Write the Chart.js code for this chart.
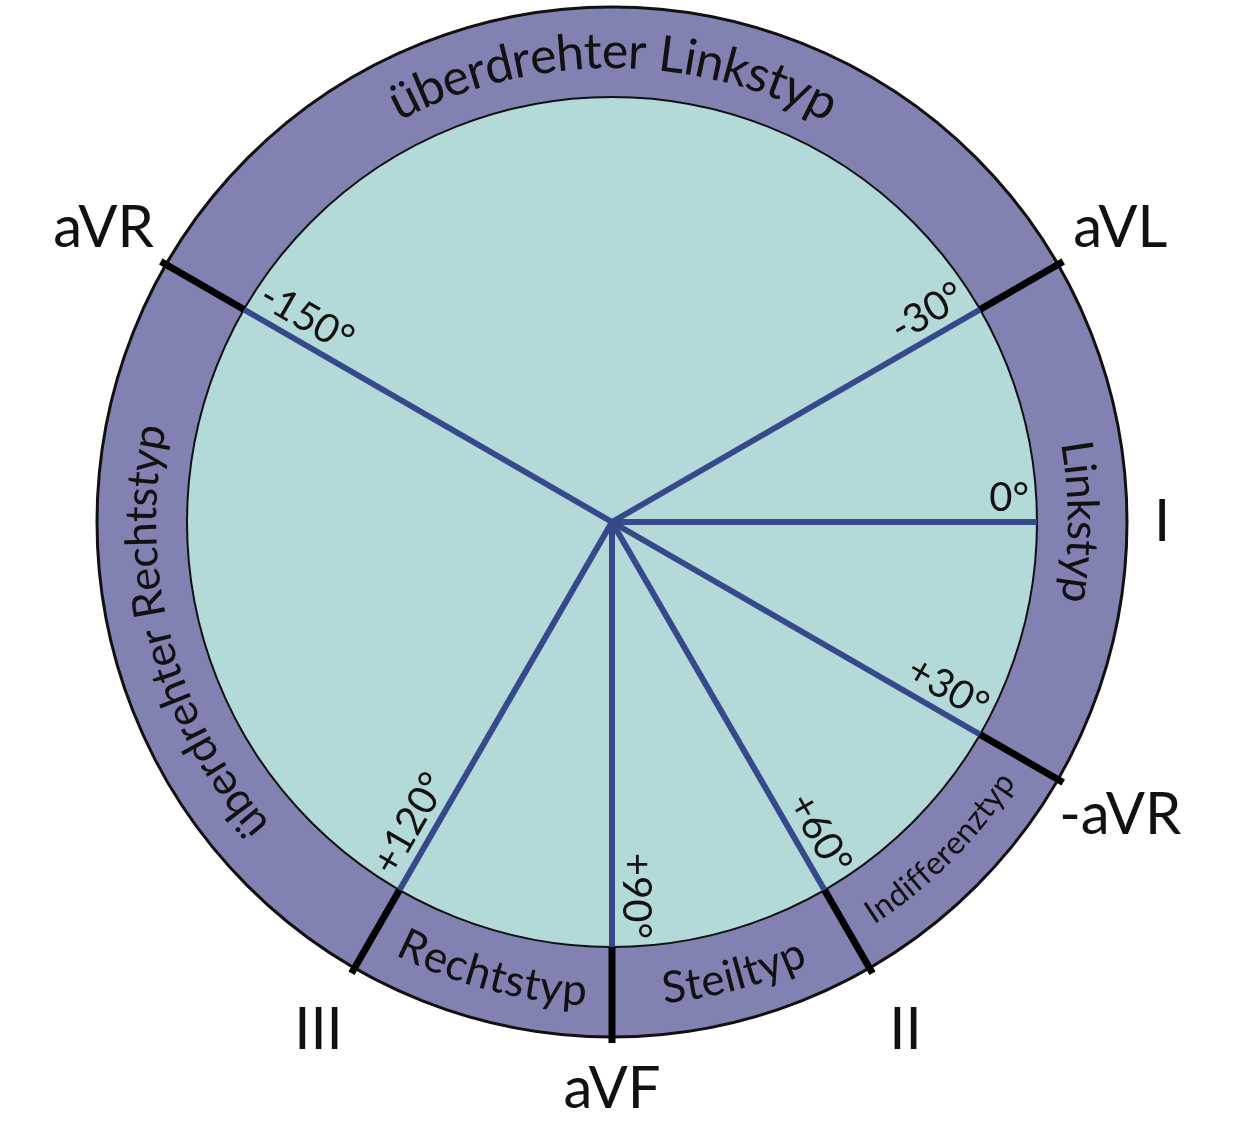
<!DOCTYPE html>
<html><head><meta charset="utf-8">
<script src="https://cdn.jsdelivr.net/npm/chart.js@4/dist/chart.umd.min.js"></script>
<style>html,body{margin:0;background:#fff}</style>
</head><body>
<canvas id="c" width="1242" height="1148"></canvas>
<script>
// sectors of the ring, starting at -150° going clockwise
const sectorNames = ['überdrehter Linkstyp','Linkstyp','Indifferenztyp','Steiltyp','Rechtstyp','überdrehter Rechtstyp'];
const sectorSpans = [120, 60, 30, 30, 30, 90];
const sectorTextSide = ['out','out','in','in','in','out'];
const startAngle = -150;
// axis lines (degrees)
const axisAngles = [-150, -30, 0, 30, 60, 90, 120];
const axisLabels = ['-150°','-30°','0°','+30°','+60°','+90°','+120°'];
// leads
const leadAngles = [-150, -30, 0, 30, 60, 90, 120];
const leadNames = ['aVR','aVL','I','-aVR','II','aVF','III'];
const separators = [-150, -30, 30, 60, 90, 120];

const FONT = 'Lato, "Open Sans", sans-serif';
const rad = d => d * Math.PI / 180;

function arcText(ctx, cx, cy, text, mid, r, side) {
  const total = ctx.measureText(text).width / r;
  let a = side === 'out' ? mid - total / 2 : mid + total / 2;
  for (const ch of text) {
    const w = ctx.measureText(ch).width / r;
    const ca = side === 'out' ? a + w / 2 : a - w / 2;
    ctx.save();
    ctx.translate(cx + r * Math.cos(ca), cy + r * Math.sin(ca));
    ctx.rotate(side === 'out' ? ca + Math.PI / 2 : ca - Math.PI / 2);
    ctx.fillText(ch, 0, 0);
    ctx.restore();
    a = side === 'out' ? a + w : a - w;
  }
}

const cabrera = {
  id: 'cabrera',
  afterDraw(chart) {
    const ctx = chart.ctx;
    const ring = chart.getDatasetMeta(0).data[0];
    const inner = chart.getDatasetMeta(1).data[0];
    const cx = ring.x, cy = ring.y, R = ring.outerRadius, r = inner.outerRadius;
    ctx.save();
    // circles
    ctx.strokeStyle = '#111';
    ctx.lineWidth = 3;
    ctx.beginPath(); ctx.arc(cx, cy, R, 0, 2 * Math.PI); ctx.stroke();
    ctx.lineWidth = 2;
    ctx.beginPath(); ctx.arc(cx, cy, r, 0, 2 * Math.PI); ctx.stroke();
    // blue axis lines
    ctx.strokeStyle = '#36498a';
    ctx.lineWidth = 6;
    ctx.lineCap = 'butt';
    axisAngles.forEach(d => {
      ctx.beginPath();
      ctx.moveTo(cx, cy);
      ctx.lineTo(cx + r * Math.cos(rad(d)), cy + r * Math.sin(rad(d)));
      ctx.stroke();
    });
    // black separators
    ctx.strokeStyle = '#000';
    ctx.lineWidth = 7;
    separators.forEach(d => {
      ctx.beginPath();
      ctx.moveTo(cx + r * Math.cos(rad(d)), cy + r * Math.sin(rad(d)));
      ctx.lineTo(cx + (R + 6) * Math.cos(rad(d)), cy + (R + 6) * Math.sin(rad(d)));
      ctx.stroke();
    });
    // sector names along the ring
    ctx.fillStyle = '#111';
    ctx.textAlign = 'center';
    ctx.textBaseline = 'middle';
    let a = startAngle;
    sectorNames.forEach((n, i) => {
      const mid = a + sectorSpans[i] / 2;
      ctx.font = (n === 'Indifferenztyp' ? '32px ' : (i === 0 ? '50px ' : '44px ')) + FONT;
      arcText(ctx, cx, cy, n, rad(mid), (R + r) / 2, sectorTextSide[i]);
      a += sectorSpans[i];
    });
    // axis degree labels
    ctx.font = '40px ' + FONT;
    ctx.textBaseline = 'bottom';
    axisAngles.forEach((d, i) => {
      const px = cx + (r - 8) * Math.cos(rad(d)), py = cy + (r - 8) * Math.sin(rad(d));
      ctx.save();
      ctx.translate(px, py);
      if (d >= -90 && d <= 90) { ctx.rotate(rad(d)); ctx.textAlign = 'right'; }
      else { ctx.rotate(rad(d - 180)); ctx.textAlign = 'left'; }
      ctx.fillText(axisLabels[i], 0, -4);
      ctx.restore();
    });
    // lead names outside
    ctx.font = '58px ' + FONT;
    ctx.textAlign = 'center';
    ctx.textBaseline = 'middle';
    leadAngles.forEach((d, i) => {
      const rr = d === 0 ? R + 35 : (d === 90 ? R + 52 : R + 72);
      ctx.fillText(leadNames[i], cx + rr * Math.cos(rad(d)), cy + rr * Math.sin(rad(d)));
    });
    ctx.restore();
  }
};

new Chart(document.getElementById('c'), {
  type: 'doughnut',
  data: {
    labels: sectorNames,
    datasets: [
      { data: sectorSpans, backgroundColor: '#8282b2', borderWidth: 0, weight: 90 },
      { data: [360], backgroundColor: '#b3d9d9', borderWidth: 0, weight: 425 }
    ]
  },
  options: {
    responsive: false, animation: false,
    rotation: startAngle + 90, cutout: 0,
    layout: { padding: { left: 97, right: 115, top: 7, bottom: 111 } },
    plugins: { legend: { display: false }, tooltip: { enabled: false } }
  },
  plugins: [cabrera]
});
</script>
</body></html>
